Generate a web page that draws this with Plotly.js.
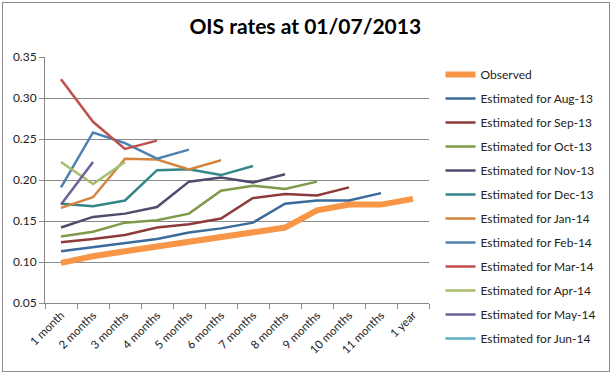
<!DOCTYPE html>
<html><head><meta charset="utf-8">
<script src="https://cdn.plot.ly/plotly-3.0.1.min.js"></script>
<style>
body{margin:0;background:#fff;}
#frame{position:absolute;left:2px;top:2px;width:608px;height:370px;border:1px solid #8c8c8c;box-sizing:border-box;}
#chart{position:absolute;left:0;top:0;width:613px;height:375px;}
</style></head>
<body>
<div id="frame"></div>
<div id="chart"></div>
<script>
const categories = ["1 month","2 months","3 months","4 months","5 months","6 months","7 months","8 months","9 months","10 months","11 months","1 year"];
const observed = [0.099,0.107,0.113,0.119,0.125,0.131,0.137,0.142,0.163,0.170,0.170,0.177];
const aug13 = [0.113,0.118,0.123,0.128,0.136,0.141,0.148,0.171,0.175,0.175,0.184];
const sep13 = [0.124,0.128,0.133,0.142,0.146,0.153,0.178,0.183,0.181,0.191];
const oct13 = [0.131,0.137,0.148,0.151,0.159,0.187,0.193,0.189,0.198];
const nov13 = [0.142,0.155,0.159,0.167,0.198,0.203,0.197,0.207];
const dec13 = [0.171,0.168,0.175,0.212,0.213,0.206,0.217];
const jan14 = [0.166,0.179,0.226,0.225,0.213,0.224];
const feb14 = [0.191,0.258,0.245,0.226,0.237];
const mar14 = [0.323,0.271,0.238,0.248];
const apr14 = [0.222,0.195,0.222];
const may14 = [0.170,0.222];
const jun14 = [0.168];
const seriesNames = ["Observed","Estimated for Aug-13","Estimated for Sep-13","Estimated for Oct-13","Estimated for Nov-13","Estimated for Dec-13","Estimated for Jan-14","Estimated for Feb-14","Estimated for Mar-14","Estimated for Apr-14","Estimated for May-14","Estimated for Jun-14"];
const seriesValues = [observed,aug13,sep13,oct13,nov13,dec13,jan14,feb14,mar14,apr14,may14,jun14];
const colors = ["#F79646","#3C6A9C","#8E3A3A","#7F9A48","#4E4B6C","#33878A","#D3843E","#4F80B2","#BE4F4D","#A7BD6E","#6E5F96","#5BAFC2"];
const widths = [6,2.5,2.5,2.5,2.5,2.5,2.5,2.5,2.5,2.5,2.5,2.5];

const traces = seriesValues.map((vals,i)=>({
  type:'scatter', mode:'lines',
  x: categories.slice(0, vals.length), y: vals,
  name: seriesNames[i], legendgroup: 'g'+i,
  line:{color:colors[i], width:widths[i]}
}));

const layout = {
  width:613, height:375,
  margin:{l:45, r:182, t:57, b:72},
  paper_bgcolor:'rgba(0,0,0,0)', plot_bgcolor:'#fff',
  font:{family:'Lato, "DejaVu Sans", sans-serif', size:12, color:'#222'},
  title:{text:'<b>OIS rates at 01/07/2013</b>', x:0.498, xanchor:'center', y:0.928, yanchor:'middle',
         font:{family:'Lato, sans-serif', size:21, color:'#000'}},
  xaxis:{type:'category', categoryarray:categories, range:[-0.5,11.5],
         tickangle:-45, tickson:'boundaries', ticks:'outside', ticklen:5, tickcolor:'#888',
         showline:true, linecolor:'#888', linewidth:1, showgrid:false, zeroline:false,
         tickfont:{size:11.5, color:'#222'}},
  yaxis:{range:[0.05,0.35], dtick:0.05, tick0:0.05, tickformat:'.2f',
         ticks:'outside', ticklen:5, tickcolor:'#888',
         showline:true, linecolor:'#888', linewidth:1,
         showgrid:true, gridcolor:'#8a8a8a', gridwidth:1, zeroline:false,
         tickfont:{size:12, color:'#222'}},
  showlegend:true,
  legend:{x:1.03, xanchor:'left', y:0.988, yanchor:'top', traceorder:'grouped', tracegroupgap:5,
          maxheight:400,
          font:{size:12, color:'#222'}, itemwidth:30, bgcolor:'rgba(0,0,0,0)'}
};
Plotly.newPlot('chart', traces, layout, {displayModeBar:false, staticPlot:true});
</script>
</body></html>
